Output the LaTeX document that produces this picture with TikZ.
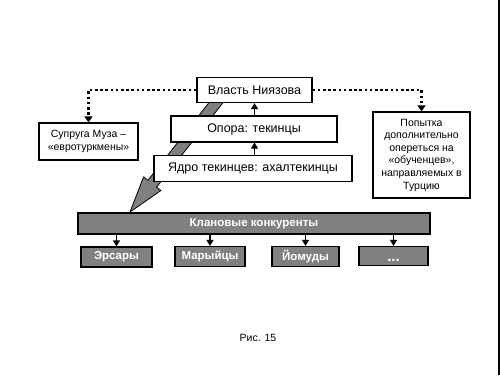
\documentclass[tikz,border=0pt]{standalone}
\usepackage{fontspec}
\setmainfont{Liberation Sans}
\usetikzlibrary{arrows.meta,calc}
\begin{document}
\begin{tikzpicture}[x=1pt,y=-1pt,
  wbox/.style={draw=black,line width=1.2pt,fill=white,inner sep=0pt,font=\fontsize{12.5}{14}\selectfont},
  sbox/.style={draw=black,line width=1.2pt,fill=white,inner sep=0pt,align=center,font=\fontsize{10.5}{12.6}\selectfont},
  gbox/.style={draw=black,line width=1.2pt,fill=black!50,inner sep=0pt,text=white,font=\fontsize{11.5}{13}\selectfont\bfseries},
  uparr/.style={line width=1.2pt,-{Triangle[width=7pt,length=6pt]}},
  dotarr/.style={line width=2.6pt,dash pattern=on 2.6pt off 2.6pt,-{Triangle[width=8pt,length=6pt]}},
  bigarr/.style={draw=black,line width=0.8pt,fill=black!50}]
\useasboundingbox (0,0) rectangle (500,375);
\draw[line width=2.5pt] (498.75,0) -- (498.75,375);
% big arrow behind boxes
\coordinate (bs) at (222,95);
\coordinate (bt) at (130,212);
\coordinate (hb) at ($(bt)!36pt!(bs)$);
\draw[bigarr] ($(bs)!5.5pt!90:(bt)$) -- ($(hb)!5.5pt!90:(bt)$) -- ($(hb)!11pt!90:(bt)$)
  -- (bt) -- ($(hb)!11pt!-90:(bt)$) -- ($(hb)!5.5pt!-90:(bt)$) -- ($(bs)!5.5pt!-90:(bt)$) -- cycle;
% boxes
\node[wbox,minimum width=115pt,minimum height=25pt] (vl) at (254.5,90) {Власть Ниязова};
\node[wbox,minimum width=166pt,minimum height=26pt] (op) at (254,129) {Опора: текинцы};
\node[wbox,minimum width=198pt,minimum height=26pt] (ya) at (253,168.5) {Ядро текинцев: ахалтекинцы};
\node[sbox,minimum width=99pt,minimum height=37pt] (su) at (88.5,141.5) {Супруга Муза –\\«евротуркмены»};
\node[sbox,minimum width=97pt,minimum height=86pt] (po) at (421.5,155) {Попытка\\дополнительно\\опереться на\\«обученцев»,\\направляемых в\\Турцию};
\node[gbox,minimum width=352pt,minimum height=21pt] (kl) at (254,223.5) {Клановые конкуренты};
\node[gbox,minimum width=71pt,minimum height=20pt] (er) at (116.5,257) {Эрсары};
\node[gbox,minimum width=70pt,minimum height=20pt] (ma) at (210,256.5) {Марыйцы};
\node[gbox,minimum width=67pt,minimum height=20pt] (yo) at (305.5,256.5) {Йомуды};
\node[gbox,minimum width=69pt,minimum height=19pt,font=\fontsize{15}{15}\selectfont\bfseries] (dd) at (393.5,256) {\smash{\raisebox{-5pt}{...}}};
\node[font=\fontsize{10.5}{12}\selectfont] (cap) at (258,338) {Рис. 15};
% connectors
\draw[uparr] (op.north -| vl.south) -- (vl.south);
\draw[uparr] (ya.north -| vl.south) -- (op.south -| vl.south);
\draw[dotarr] (vl.west) -| (su.north);
\draw[dotarr] (vl.east) -| (po.north);
\draw[uparr] (kl.south -| er.north) -- (er.north);
\draw[uparr] (kl.south -| ma.north) -- (ma.north);
\draw[uparr] (kl.south -| yo.north) -- (yo.north);
\draw[uparr] (kl.south -| dd.north) -- (dd.north);
\end{tikzpicture}
\end{document}
